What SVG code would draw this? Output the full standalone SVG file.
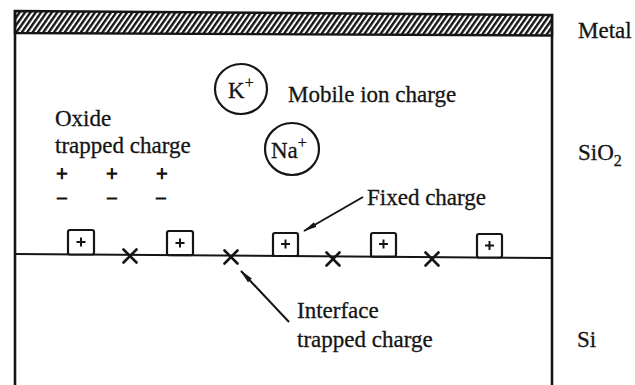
<svg xmlns="http://www.w3.org/2000/svg" width="635" height="385" viewBox="0 0 635 385">
<style>
  .t { font-family: "Liberation Serif", "Times New Roman", serif; font-size: 23px; fill: #151515; stroke: #151515; stroke-width: 0.3; }
  .sym { font-family: "Liberation Serif", "Times New Roman", serif; font-size: 20px; fill: #151515; stroke: #151515; stroke-width: 1.1; }
  .ln { stroke: #151515; fill: none; }
  .box { stroke: #151515; stroke-width: 2.2; fill: #fff; }
  .pl { stroke: #151515; stroke-width: 2; }
  .x { stroke: #151515; stroke-width: 2.6; stroke-linecap: round; }
  .ion { stroke: #151515; stroke-width: 2.2; fill: none; }
  .conn { stroke: #151515; stroke-width: 2; fill: none; marker-end: url(#ah); }
</style>
<defs>
  <pattern id="hatch" patternUnits="userSpaceOnUse" width="4.4" height="10" patternTransform="rotate(35)">
    <rect width="4.4" height="10" fill="#fff"/>
    <line x1="1.2" y1="0" x2="1.2" y2="10" stroke="#151515" stroke-width="2.4"/>
  </pattern>
  <marker id="ah" viewBox="0 0 14 6" refX="13" refY="3" markerWidth="14" markerHeight="6" orient="auto" markerUnits="userSpaceOnUse">
    <path d="M0,0.3 L14,3 L0,5.7 z" fill="#151515"/>
  </marker>
</defs>
<rect width="635" height="385" fill="#fff"/>

<g id="metal">
  <polygon points="15,11 552,15 552,35.5 15,33" fill="url(#hatch)" stroke="#151515" stroke-width="2.4"/>
</g>
<g id="frame">
  <line class="ln" x1="15" y1="10" x2="15" y2="385" stroke-width="2.6"/>
  <line class="ln" x1="552" y1="14" x2="552" y2="385" stroke-width="2.6"/>
  <line id="interface" class="ln" x1="15" y1="254" x2="552" y2="258" stroke-width="2"/>
</g>

<g id="labels">
  <text class="t" x="578" y="38">Metal</text>
  <text class="t" x="578" y="160">SiO<tspan font-size="16" dy="6">2</tspan></text>
  <text class="t" x="577" y="347">Si</text>
</g>

<g id="mobile-ions">
  <g id="ion-k">
    <ellipse class="ion" cx="241" cy="89" rx="26" ry="25"/>
    <text class="t" x="228" y="98">K<tspan font-size="16" dy="-10">+</tspan></text>
  </g>
  <g id="ion-na">
    <ellipse class="ion" cx="292" cy="149" rx="27" ry="26"/>
    <text class="t" x="271" y="158">Na<tspan font-size="16" dy="-10">+</tspan></text>
  </g>
  <text id="mobile-label" class="t" x="288" y="102">Mobile ion charge</text>
</g>

<g id="oxide-trapped">
  <text class="t" x="55" y="126">Oxide</text>
  <text class="t" x="55" y="153">trapped charge</text>
  <g text-anchor="middle">
    <text class="sym" x="62" y="181">+</text>
    <text class="sym" x="112" y="181">+</text>
    <text class="sym" x="162" y="181">+</text>
    <text class="sym" x="62" y="205">−</text>
    <text class="sym" x="112" y="205">−</text>
    <text class="sym" x="161" y="205">−</text>
  </g>
</g>

<g id="fixed-charges">
  <g id="fc1"><rect class="box" x="68" y="230" width="26" height="24.5" rx="2"/><path class="pl" d="M76.5,242 H85.5 M81,237.5 V246.5"/></g>
  <g id="fc2"><rect class="box" x="167" y="231" width="26" height="24.2" rx="2"/><path class="pl" d="M175.5,243 H184.5 M180,238.5 V247.5"/></g>
  <g id="fc3"><rect class="box" x="273" y="233" width="25" height="23" rx="2"/><path class="pl" d="M281,244 H290 M285.5,239.5 V248.5"/></g>
  <g id="fc4"><rect class="box" x="371" y="233" width="25" height="23.7" rx="2"/><path class="pl" d="M379,244 H388 M383.5,239.5 V248.5"/></g>
  <g id="fc5"><rect class="box" x="477" y="234" width="25" height="23.5" rx="2"/><path class="pl" d="M485,245.5 H494 M489.5,241 V250"/></g>
  <text class="t" x="367" y="205">Fixed charge</text>
</g>

<g id="interface-traps">
  <path id="it1" class="x" d="M123.5,249.5 L136.5,262.5 M136.5,249.5 L123.5,262.5"/>
  <path id="it2" class="x" d="M224.5,250.5 L237.5,263.5 M237.5,250.5 L224.5,263.5"/>
  <path id="it3" class="x" d="M326.5,252.5 L339.5,265.5 M339.5,252.5 L326.5,265.5"/>
  <path id="it4" class="x" d="M425.5,252.5 L438.5,265.5 M438.5,252.5 L425.5,265.5"/>
  <text class="t" x="297" y="318">Interface</text>
  <text class="t" x="297" y="347">trapped charge</text>
</g>

<g id="connectors">
  <line class="conn" x1="363" y1="197" x2="304" y2="231"/>
  <line class="conn" x1="289" y1="322" x2="241" y2="271"/>
</g>
</svg>
